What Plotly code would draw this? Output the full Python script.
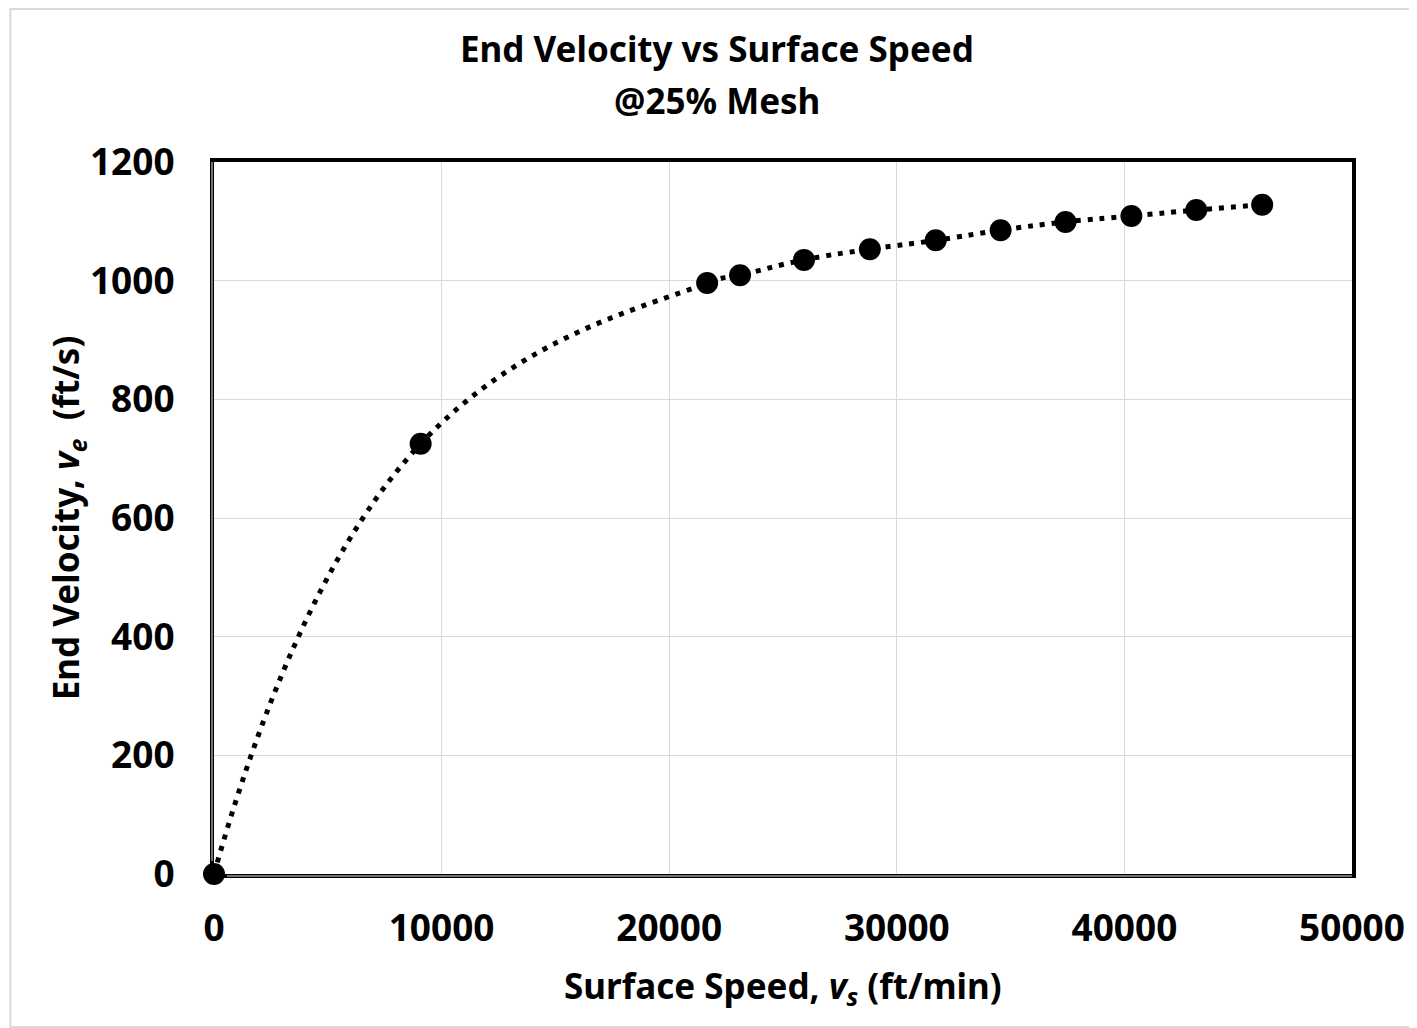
import plotly.graph_objects as go

surface_speed = [0, 9079, 21667, 23114, 25921, 28816, 31711, 34561, 37412, 40307, 43158, 46053]
end_velocity = [0, 725, 996, 1009, 1035, 1053, 1068, 1085, 1099, 1109, 1119, 1128]

x_ticks = [0, 10000, 20000, 30000, 40000, 50000]
y_ticks = [0, 200, 400, 600, 800, 1000, 1200]

title_lines = ["End Velocity vs Surface Speed", "@25% Mesh"]
x_title = "<b>Surface Speed, <i>v<sub>s</sub></i> (ft/min)</b>"
y_title = "<b>End Velocity, <i>v<sub>e</sub></i>  (ft/s)</b>"

FONT = "Noto Sans"

# page body has an 8px default margin; figure sized/positioned to compensate
W, H = 1409, 1020
L, R, T, B = 206, 63, 154, 154
PW, PH = W - L - R, H - T - B
LW = 4

fig = go.Figure()
fig.add_trace(go.Scatter(
    x=surface_speed, y=end_velocity,
    mode="lines+markers",
    line=dict(color="black", width=5, dash="5px,7px", shape="spline", smoothing=1.3),
    marker=dict(color="black", size=22),
    showlegend=False, cliponaxis=False,
))

fig.update_layout(
    width=W, height=H,
    margin=dict(l=L, r=R, t=T, b=B),
    paper_bgcolor="white", plot_bgcolor="white",
    font=dict(family=FONT, color="black"),
)

def py(fig_y):
    return (H - B - fig_y) / PH

def px(fig_x):
    return (fig_x - L) / PW

for text, yc in zip(title_lines, [40, 92]):
    fig.add_annotation(text=f"<b>{text}</b>", xref="paper", yref="paper",
                       x=px(710), y=py(yc), xanchor="center", yanchor="middle",
                       showarrow=False, font=dict(family=FONT, size=35, color="black"))

fig.add_annotation(text=x_title, xref="paper", yref="paper",
                   x=0.5, y=py(979), xanchor="center", yanchor="middle",
                   showarrow=False, font=dict(family=FONT, size=35, color="black"))
fig.add_annotation(text=y_title, xref="paper", yref="paper",
                   x=px(59), y=0.5, xanchor="center", yanchor="middle", textangle=-90,
                   showarrow=False, font=dict(family=FONT, size=35, color="black"))

fig.update_xaxes(
    range=[0, 50000], tickvals=x_ticks, ticktext=[str(v) for v in x_ticks],
    tickfont=dict(family=FONT, size=37, color="black", weight="bold"),
    showgrid=True, gridcolor="#d9d9d9", gridwidth=1,
    showline=True, linecolor="black", linewidth=LW, mirror=True,
    zeroline=False, ticks="", ticklabelstandoff=19,
)
fig.update_yaxes(
    range=[0, 1200], tickvals=y_ticks, ticktext=[str(v) for v in y_ticks],
    tickfont=dict(family=FONT, size=37, color="black", weight="bold"),
    showgrid=True, gridcolor="#d9d9d9", gridwidth=1,
    showline=True, linecolor="black", linewidth=LW, mirror=True,
    zeroline=False, ticks="", ticklabelstandoff=28,
)

# thin white stripe inside the left and bottom axis lines (double-line look)
gap = 13
fig.add_shape(type="line", xref="paper", yref="paper",
              x0=gap / PW, x1=1, y0=-LW / 2 / PH, y1=-LW / 2 / PH,
              line=dict(color="#e8e8e8", width=1), layer="above")
fig.add_shape(type="line", xref="paper", yref="paper",
              x0=-LW / 2 / PW, x1=-LW / 2 / PW, y0=gap / PH, y1=1,
              line=dict(color="#e8e8e8", width=1), layer="above")

# outer light-gray chart border
fig.add_shape(type="rect", xref="paper", yref="paper",
              x0=px(2), x1=px(W - 1), y0=py(H - 1), y1=py(1),
              line=dict(color="#d9d9d9", width=2), layer="below")

fig.write_html("out.html")
